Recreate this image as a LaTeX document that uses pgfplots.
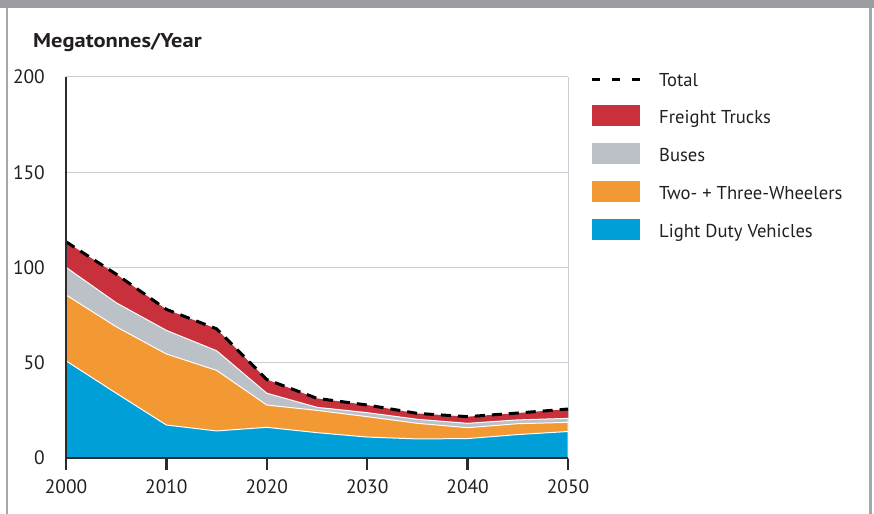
\documentclass[border=0pt]{standalone}
\usepackage{pgfplots}
\pgfplotsset{compat=1.18}
\usepackage{fontspec}
\setmainfont{PT Sans}
\definecolor{cRed}{HTML}{C8313C}
\definecolor{cGray}{HTML}{BCC0C7}
\definecolor{cOrange}{HTML}{F39933}
\definecolor{cBlue}{HTML}{009FD8}
\definecolor{cGrid}{HTML}{C9CDD6}
\definecolor{cAxis}{HTML}{2B2B2B}
\definecolor{cFrame}{HTML}{9C9DA1}
\definecolor{cText}{HTML}{231F20}
\pgfplotsset{
  layers/mylayers/.define layer set={axis background,axis grid,pre main,main,axis ticks,axis lines,axis tick labels,axis descriptions,axis foreground}{},
}
\begin{document}
\begin{tikzpicture}[x=1bp,y=1bp,font=\fontsize{18.7}{22}\selectfont,text=cText]
\path (0,0) rectangle (874,514);
% frame
\fill[cFrame] (0,505.5) rectangle (874,514);
\fill[cFrame!90] (5.5,0) rectangle (8,506);
\fill[cFrame!90] (869,0) rectangle (872,506);
\node[anchor=base west,inner sep=0pt,font=\fontsize{20}{24}\selectfont\bfseries] at (33,466) {\scalebox{1.13}[1]{Megatonnes/Year}};
\begin{axis}[
  set layers=mylayers,
  clip=false,
  at={(66bp,56bp)}, anchor=south west,
  scale only axis, width=502bp, height=381bp,
  xmin=2000, xmax=2050, ymin=0, ymax=200,
  axis x line*=bottom, axis y line*=left,
  axis line style={draw=none},
  xtick={2000,2010,...,2050},
  ytick={0,50,...,200},
  xtick pos=bottom, ytick pos=left,
  tick align=outside,
  major tick length=12bp,
  x tick style={draw=cAxis, line width=2.4bp},
  y tick style={draw=none},
  ymajorgrids, grid style={draw=cGrid, line width=1bp},
  extra x ticks={2050}, extra x tick labels={},
  extra x tick style={grid=major, tick style={draw=none}},
  /pgf/number format/1000 sep={},
  /pgf/number format/assume math mode=true,
  ticklabel style={font=\fontsize{19.5}{22}\selectfont, text=cText},
  yticklabel style={inner sep=0pt, xshift=-9bp},
  xticklabel style={inner sep=0pt, yshift=-9bp},
]
% cumulative tops: Total > Buses top > Two/Three-Wheelers top > LDV
\addplot[fill=cRed, draw=none] coordinates {
 (2000,113.5) (2005,96.5) (2010,78.0) (2015,67.8) (2020,41.2) (2025,31.3)
 (2030,27.8) (2035,23.4) (2040,21.7) (2045,23.6) (2050,25.7)} \closedcycle;
\addplot[fill=cGray, draw=white, line width=1bp] coordinates {
 (2000,100.1) (2005,81.5) (2010,67.0) (2015,56.3) (2020,34.0) (2025,26.6)
 (2030,23.8) (2035,20.3) (2040,18.2) (2045,20.0) (2050,20.8)} \closedcycle;
\addplot[fill=cOrange, draw=white, line width=1bp] coordinates {
 (2000,85.6) (2005,68.9) (2010,54.6) (2015,46.0) (2020,27.8) (2025,25.0)
 (2030,21.7) (2035,18.2) (2040,15.9) (2045,18.0) (2050,18.7)} \closedcycle;
\addplot[fill=cBlue, draw=white, line width=1bp] coordinates {
 (2000,51.0) (2005,34.0) (2010,17.3) (2015,14.2) (2020,16.1) (2025,13.3)
 (2030,11.0) (2035,10.0) (2040,10.2) (2045,12.3) (2050,13.9)} \closedcycle;
\addplot[draw=black, line width=3bp, dash pattern=on 10bp off 7bp] coordinates {
 (2000,113.5) (2005,96.5) (2010,78.0) (2015,67.8) (2020,41.2) (2025,31.3)
 (2030,27.8) (2035,23.4) (2040,21.7) (2045,23.6) (2050,25.7)};
% dark left and bottom axis lines
\draw[cAxis, line width=2.6bp] (rel axis cs:0,1) -- (rel axis cs:0,0) -- (rel axis cs:1,0);
\end{axis}
% legend
\draw[black, line width=3bp, dash pattern=on 8bp off 12bp] (592,434) -- (640,434);
\fill[cRed] (592,387.5) rectangle (640,408.5);
\fill[cGray] (592,349.5) rectangle (640,370.5);
\fill[cOrange] (592,311.5) rectangle (640,332.5);
\fill[cBlue] (592,273.5) rectangle (640,294.5);
\node[anchor=base west,inner sep=0pt] at (659,427.3) {Total};
\node[anchor=base west,inner sep=0pt] at (659,390.7) {Freight Trucks};
\node[anchor=base west,inner sep=0pt] at (659,352.7) {Buses};
\node[anchor=base west,inner sep=0pt] at (659,314.7) {Two- + Three-Wheelers};
\node[anchor=base west,inner sep=0pt] at (659,276.7) {Light Duty Vehicles};
\end{tikzpicture}
\end{document}
